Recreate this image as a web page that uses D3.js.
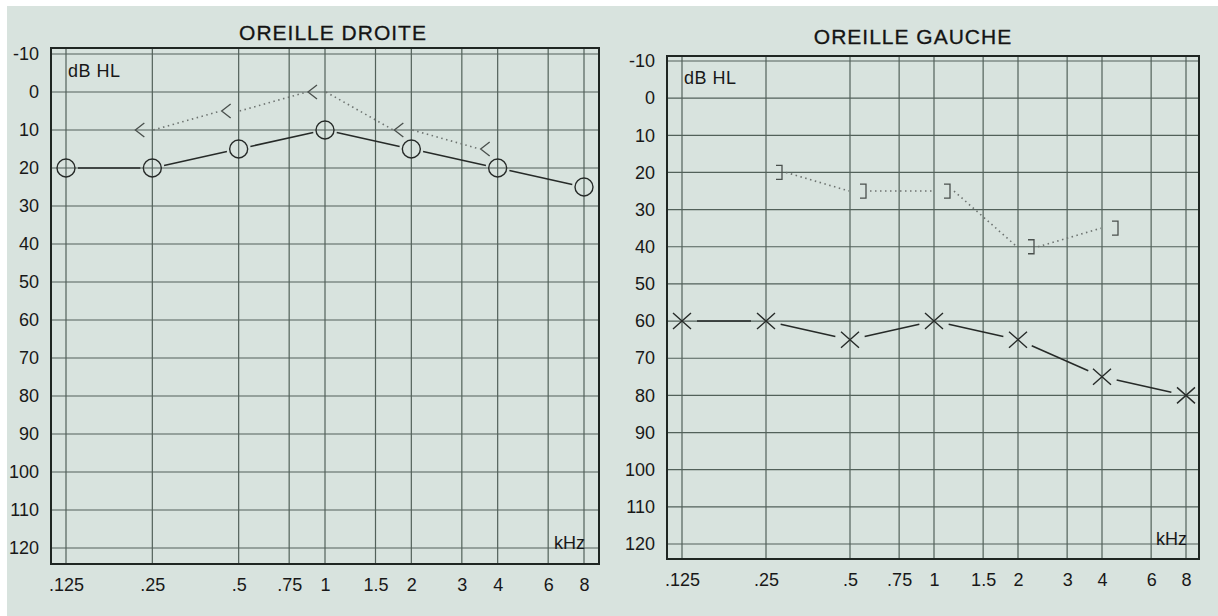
<!DOCTYPE html>
<html>
<head>
<meta charset="utf-8">
<script src="https://cdn.jsdelivr.net/npm/d3@7"></script>
<style>
  html, body { margin: 0; padding: 0; background: #ffffff; }
  svg { display: block; font-family: "Liberation Sans", Arial, sans-serif; }
</style>
</head>
<body>
<svg id="chart" width="1218" height="616"></svg>
<script>
// ---------- data ----------
const freqTicks = [0.125, 0.25, 0.5, 0.75, 1, 1.5, 2, 3, 4, 6, 8];
const freqLabels = [".125", ".25", ".5", ".75", "1", "1.5", "2", "3", "4", "6", "8"];
const dbTicks = [-10, 0, 10, 20, 30, 40, 50, 60, 70, 80, 90, 100, 110, 120];
const dbLabels = ["-10", "0", "10", "20", "30", "40", "50", "60", "70", "80", "90", "100", "110", "120"];

const acFreqs = [0.125, 0.25, 0.5, 1, 2, 4, 8];
const rightAir = [20, 20, 15, 10, 15, 20, 25];     // O, solid
const leftAir = [60, 60, 65, 60, 65, 75, 80];      // X, solid

const bcFreqs = [0.25, 0.5, 1, 2, 4];
const rightBone = [10, 5, 0, 10, 15];              // <, dotted
const leftBone = [20, 25, 25, 40, 35];             // ], dotted

const titles = ["OREILLE DROITE", "OREILLE GAUCHE"];

// ---------- layout ----------
const svg = d3.select("#chart");
svg.append("rect").attr("x", 0).attr("y", 0).attr("width", 1218).attr("height", 616).attr("fill", "#ffffff");
svg.append("rect").attr("x", 7).attr("y", 6).attr("width", 1211).attr("height", 610).attr("fill", "#d8e3de");

const panels = [
  { title: titles[0], xr: [66, 584], yr: [54, 548], frame: [51, 48, 599, 564], titleX: 333, titleY: 40,
    air: rightAir, bone: rightBone, airSym: "circle", boneSym: "lt" },
  { title: titles[1], xr: [682, 1186], yr: [61, 544], frame: [667, 56, 1199, 559], titleX: 913, titleY: 44,
    air: leftAir, bone: leftBone, airSym: "cross", boneSym: "bracket" }
];

const GRID = "#52615a", FRAME = "#1f2622", INK = "#262a28", BONE = "#6d7370", TEXT = "#181818";

function trimmed(p1, p2, t1, t2) {
  const dx = p2[0] - p1[0], dy = p2[1] - p1[1];
  const L = Math.hypot(dx, dy);
  const ux = dx / L, uy = dy / L;
  return [[p1[0] + ux * t1, p1[1] + uy * t1], [p2[0] - ux * t2, p2[1] - uy * t2]];
}

panels.forEach(p => {
  const x = d3.scaleLog().base(2).domain([0.125, 8]).range(p.xr);
  const y = d3.scaleLinear().domain([-10, 120]).range(p.yr);
  const [fx0, fy0, fx1, fy1] = p.frame;
  const g = svg.append("g");

  // grid
  g.selectAll(".hg").data(dbTicks).enter().append("line")
    .attr("x1", fx0).attr("x2", fx1)
    .attr("y1", d => y(d)).attr("y2", d => y(d))
    .attr("stroke", GRID).attr("stroke-width", 1.2);
  g.selectAll(".vg").data(freqTicks).enter().append("line")
    .attr("x1", d => x(d)).attr("x2", d => x(d))
    .attr("y1", fy0).attr("y2", fy1)
    .attr("stroke", GRID).attr("stroke-width", 1.2);

  // frame
  g.append("rect").attr("x", fx0).attr("y", fy0)
    .attr("width", fx1 - fx0).attr("height", fy1 - fy0)
    .attr("fill", "none").attr("stroke", FRAME).attr("stroke-width", 2);

  // axes (labels only)
  const ay = g.append("g").attr("transform", `translate(${fx0},0)`)
    .call(d3.axisLeft(y).tickValues(dbTicks).tickSize(0).tickPadding(12)
      .tickFormat((d, i) => dbLabels[i]));
  ay.select(".domain").remove();
  ay.selectAll("text").attr("font-size", 18).attr("fill", TEXT)
    .attr("font-family", "Liberation Sans, Arial, sans-serif");

  const ax = g.append("g").attr("transform", `translate(0,${fy1})`)
    .call(d3.axisBottom(x).tickValues(freqTicks).tickSize(0).tickPadding(14)
      .tickFormat((d, i) => freqLabels[i]));
  ax.select(".domain").remove();
  ax.selectAll("text").attr("font-size", 18).attr("fill", TEXT)
    .attr("font-family", "Liberation Sans, Arial, sans-serif");

  // title and unit labels
  g.append("text").attr("x", p.titleX).attr("y", p.titleY).attr("text-anchor", "middle")
    .attr("font-size", 21).attr("letter-spacing", 1).attr("fill", "#141414")
    .attr("stroke", "#141414").attr("stroke-width", 0.3).text(p.title);
  g.append("text").attr("x", x(0.125) + 2).attr("y", y(-10) + 23)
    .attr("font-size", 18).attr("letter-spacing", 0.5).attr("fill", TEXT).text("dB HL");
  g.append("text").attr("x", x(8) + 1).attr("y", y(120) + 1).attr("text-anchor", "end")
    .attr("font-size", 18).attr("fill", TEXT).text("kHz");

  // air conduction: solid segments with gaps round the symbols
  const airPts = acFreqs.map((f, i) => [x(f), y(p.air[i])]);
  const gap = p.airSym === "circle" ? 12 : 15;
  for (let i = 0; i < airPts.length - 1; i++) {
    const s = trimmed(airPts[i], airPts[i + 1], gap, gap);
    g.append("line").attr("x1", s[0][0]).attr("y1", s[0][1]).attr("x2", s[1][0]).attr("y2", s[1][1])
      .attr("stroke", INK).attr("stroke-width", 1.5);
  }
  if (p.airSym === "circle") {
    g.selectAll(".ac").data(airPts).enter().append("circle")
      .attr("cx", d => d[0]).attr("cy", d => d[1]).attr("r", 9)
      .attr("fill", "none").attr("stroke", INK).attr("stroke-width", 1.4);
  } else {
    g.selectAll(".ac").data(airPts).enter().append("path")
      .attr("d", d => `M${d[0] - 9},${d[1] - 8}L${d[0] + 9},${d[1] + 8}M${d[0] - 9},${d[1] + 8}L${d[0] + 9},${d[1] - 8}`)
      .attr("fill", "none").attr("stroke", INK).attr("stroke-width", 1.4);
  }

  // bone conduction: dotted segments and bracket symbols
  const bonePts = bcFreqs.map((f, i) => [x(f), y(p.bone[i])]);
  for (let i = 0; i < bonePts.length - 1; i++) {
    const a = bonePts[i], b = bonePts[i + 1];
    let s, e;
    if (p.boneSym === "lt") { s = [a[0] + 1, a[1]]; e = [b[0] - 18, b[1]]; }
    else { s = [a[0] + 20, a[1]]; e = [b[0] - 1, b[1]]; }
    g.append("line").attr("x1", s[0]).attr("y1", s[1]).attr("x2", e[0]).attr("y2", e[1])
      .attr("stroke", BONE).attr("stroke-width", 1.6).attr("stroke-dasharray", "1.5,3.5");
  }
  g.selectAll(".bc").data(bonePts).enter().append("path")
    .attr("d", d => p.boneSym === "lt"
      ? `M${d[0] - 8},${d[1] - 7}L${d[0] - 17},${d[1]}L${d[0] - 8},${d[1] + 7}`
      : `M${d[0] + 10},${d[1] - 7}L${d[0] + 16},${d[1] - 7}L${d[0] + 16},${d[1] + 7}L${d[0] + 10},${d[1] + 7}`)
    .attr("fill", "none").attr("stroke", "#4a504d").attr("stroke-width", 1.3);
});
</script>
</body>
</html>
